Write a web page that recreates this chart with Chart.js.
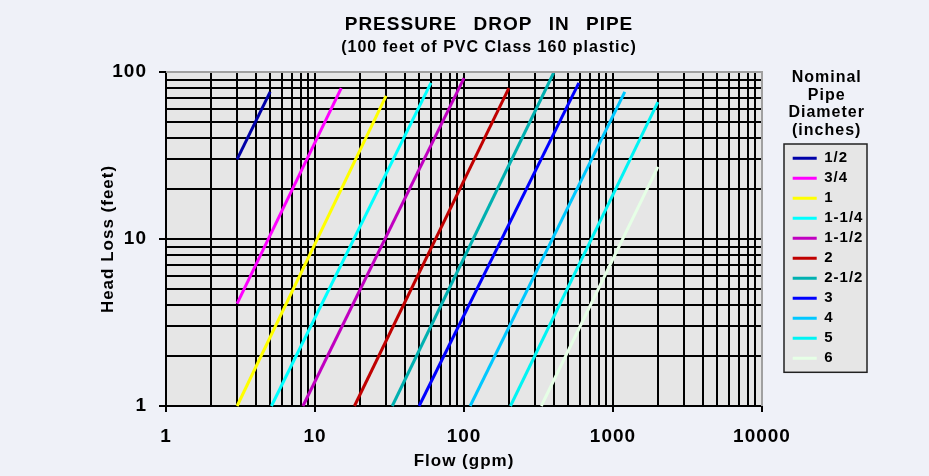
<!DOCTYPE html>
<html>
<head>
<meta charset="utf-8">
<script src="https://cdn.jsdelivr.net/npm/chart.js@4"></script>
<style>
  html, body { margin: 0; padding: 0; background: #eff1f8; }
  #wrap { position: relative; width: 929px; height: 476px; }
  canvas { display: block; }
</style>
</head>
<body>
<div id="wrap"><canvas id="c" width="929" height="476"></canvas></div>
<script>
// ---- data ----
const chartTitle = 'PRESSURE DROP IN PIPE';
const chartSubtitle = '(100 feet of PVC Class 160 plastic)';
const legendTitle = ['Nominal', 'Pipe', 'Diameter', '(inches)'];
const pipeSizes = ['1/2', '3/4', '1', '1-1/4', '1-1/2', '2', '2-1/2', '3', '4', '5', '6'];
const flowStart = [3, 3, 3, 5.1, 8.3, 18.4, 33, 50, 110, 205, 330];
const flowEnd   = [5, 15, 30, 60, 100, 200, 400, 590, 1200, 2000, 2000];
const headStart = [30, 4.1, 1, 1, 1, 1, 1, 1, 1, 1, 1];
const headEnd   = [76, 80, 72, 86, 92, 80, 99, 86, 76, 66, 27];
const lineColors = ['#0000A8', '#FF00FF', '#FFFF00', '#00FFFF', '#C000C0', '#C00000',
                    '#00B0B0', '#0000FF', '#00C8FF', '#00F4F4', '#E6FFE6'];
const xTickValues = [1, 2, 3, 4, 5, 6, 7, 8, 9,
                     10, 20, 30, 40, 50, 60, 70, 80, 90,
                     100, 200, 300, 400, 500, 600, 700, 800, 900,
                     1000, 2000, 3000, 4000, 5000, 6000, 7000, 8000, 9000, 10000];
const yTickValues = [1, 2, 3, 4, 5, 6, 7, 8, 9,
                     10, 20, 30, 40, 50, 60, 70, 80, 90, 100];
const xMajorLabels = [1, 10, 100, 1000, 10000];
const yMajorLabels = [1, 10, 100];

const FONT = "'Liberation Sans', Arial, sans-serif";
Chart.defaults.font.family = FONT;
Chart.defaults.color = '#000';

const datasets = pipeSizes.map((name, i) => ({
  label: name,
  data: [{x: flowStart[i], y: headStart[i]}, {x: flowEnd[i], y: headEnd[i]}],
  borderColor: lineColors[i],
  backgroundColor: lineColors[i],
  borderWidth: 3,
  pointRadius: 0,
  pointHoverRadius: 0,
  showLine: true,
  fill: false,
  clip: 3
}));

const decor = {
  id: 'decor',
  beforeDraw(chart) {
    const {ctx, chartArea: a} = chart;
    ctx.save();
    ctx.fillStyle = '#e6e6e6';
    ctx.fillRect(a.left, a.top, a.right - a.left, a.bottom - a.top);
    const lg = chart.legend;
    const hb = lg && lg.legendHitBoxes;
    if (hb && hb.length) {
      const l = lg.left - 3.7;
      const t = hb[0].top - 6.8;
      const last = hb[hb.length - 1];
      const b = last.top + last.height + 6.5;
      ctx.fillRect(l, t, 83, b - t);
      ctx.strokeStyle = '#222';
      ctx.lineWidth = 1.5;
      ctx.strokeRect(l, t, 83, b - t);
    }
    ctx.restore();
    ctx.letterSpacing = '1px';
    ctx.save();
    ctx.fillStyle = '#000';
    ctx.textAlign = 'center';
    ctx.textBaseline = 'alphabetic';
    ctx.font = 'bold 19px ' + FONT;
    ctx.wordSpacing = '10px';
    ctx.fillText(chartTitle, 489, 30);
    ctx.wordSpacing = '0px';
    ctx.font = 'bold 16px ' + FONT;
    ctx.fillText(chartSubtitle, 489, 52);
    ctx.restore();
  },
  afterDraw(chart) {
    const {ctx, chartArea: a} = chart;
    ctx.save();
    ctx.strokeStyle = '#a0a0a0';
    ctx.lineWidth = 2;
    ctx.beginPath();
    ctx.moveTo(a.left, a.top);
    ctx.lineTo(a.right, a.top);
    ctx.lineTo(a.right, a.bottom);
    ctx.stroke();
    ctx.restore();
  }
};

new Chart(document.getElementById('c'), {
  type: 'scatter',
  data: { datasets },
  options: {
    responsive: false,
    animation: false,
    events: [],
    layout: { padding: { left: 0, top: 0, right: 63.3, bottom: 0 } },
    plugins: {
      tooltip: { enabled: false },
      legend: {
        display: true,
        position: 'right',
        align: 'start',
        maxWidth: 78,
        title: {
          display: true,
          text: legendTitle,
          color: '#000',
          position: 'center',
          font: { size: 16, weight: 'bold', lineHeight: 1.0875 },
          padding: { top: 70, bottom: 58.4 }
        },
        labels: {
          boxWidth: 24,
          boxHeight: 3,
          padding: 5,
          color: '#000',
          font: { size: 15, weight: 'bold' },
          generateLabels: (chart) => chart.data.datasets.map((d, i) => ({
            text: d.label,
            fillStyle: d.borderColor,
            strokeStyle: d.borderColor,
            lineWidth: 0,
            hidden: false,
            datasetIndex: i,
            fontColor: '#000'
          }))
        }
      }
    },
    scales: {
      x: {
        type: 'logarithmic',
        position: 'bottom',
        min: 1,
        max: 10000,
        afterBuildTicks: (s) => { s.ticks = xTickValues.map(v => ({value: v, major: xMajorLabels.includes(v)})); },
        afterFit: (s) => { s.height = 70; },
        grid: {
          color: '#000',
          lineWidth: 2,
          tickLength: 6,
          tickColor: (c) => (c.tick && xMajorLabels.includes(c.tick.value)) ? '#000' : 'rgba(0,0,0,0)'
        },
        border: { color: '#000', width: 2 },
        ticks: {
          autoSkip: false,
          maxRotation: 0,
          minRotation: 0,
          padding: 13,
          color: '#000',
          font: { size: 19, weight: 'bold' },
          callback: (v) => xMajorLabels.includes(v) ? String(v) : ''
        },
        title: {
          display: true,
          text: 'Flow (gpm)',
          color: '#000',
          font: { size: 17, weight: 'bold' },
          padding: { top: 0, bottom: 4.8 }
        }
      },
      x2: {
        type: 'linear',
        position: 'top',
        display: true,
        grid: { display: false },
        border: { display: false },
        ticks: { display: false },
        afterFit: (s) => { s.height = 72; }
      },
      y: {
        type: 'logarithmic',
        position: 'left',
        min: 1,
        max: 100,
        afterBuildTicks: (s) => { s.ticks = yTickValues.map(v => ({value: v, major: yMajorLabels.includes(v)})); },
        afterFit: (s) => { s.width = 166; },
        grid: {
          color: '#000',
          lineWidth: 2,
          tickLength: 7,
          tickColor: (c) => (c.tick && yMajorLabels.includes(c.tick.value)) ? '#000' : 'rgba(0,0,0,0)'
        },
        border: { color: '#000', width: 2 },
        ticks: {
          autoSkip: false,
          padding: 12,
          color: '#000',
          font: { size: 19, weight: 'bold' },
          callback: (v) => yMajorLabels.includes(v) ? String(v) : ''
        },
        title: {
          display: true,
          text: 'Head Loss (feet)',
          color: '#000',
          font: { size: 17, weight: 'bold' },
          padding: { top: 97.8, bottom: 0 }
        }
      },
      y2: {
        type: 'linear',
        position: 'right',
        display: true,
        grid: { display: false },
        border: { display: false },
        ticks: { display: false },
        afterFit: (s) => { s.width = 25.7; }
      }
    }
  },
  plugins: [decor]
});
</script>
</body>
</html>
